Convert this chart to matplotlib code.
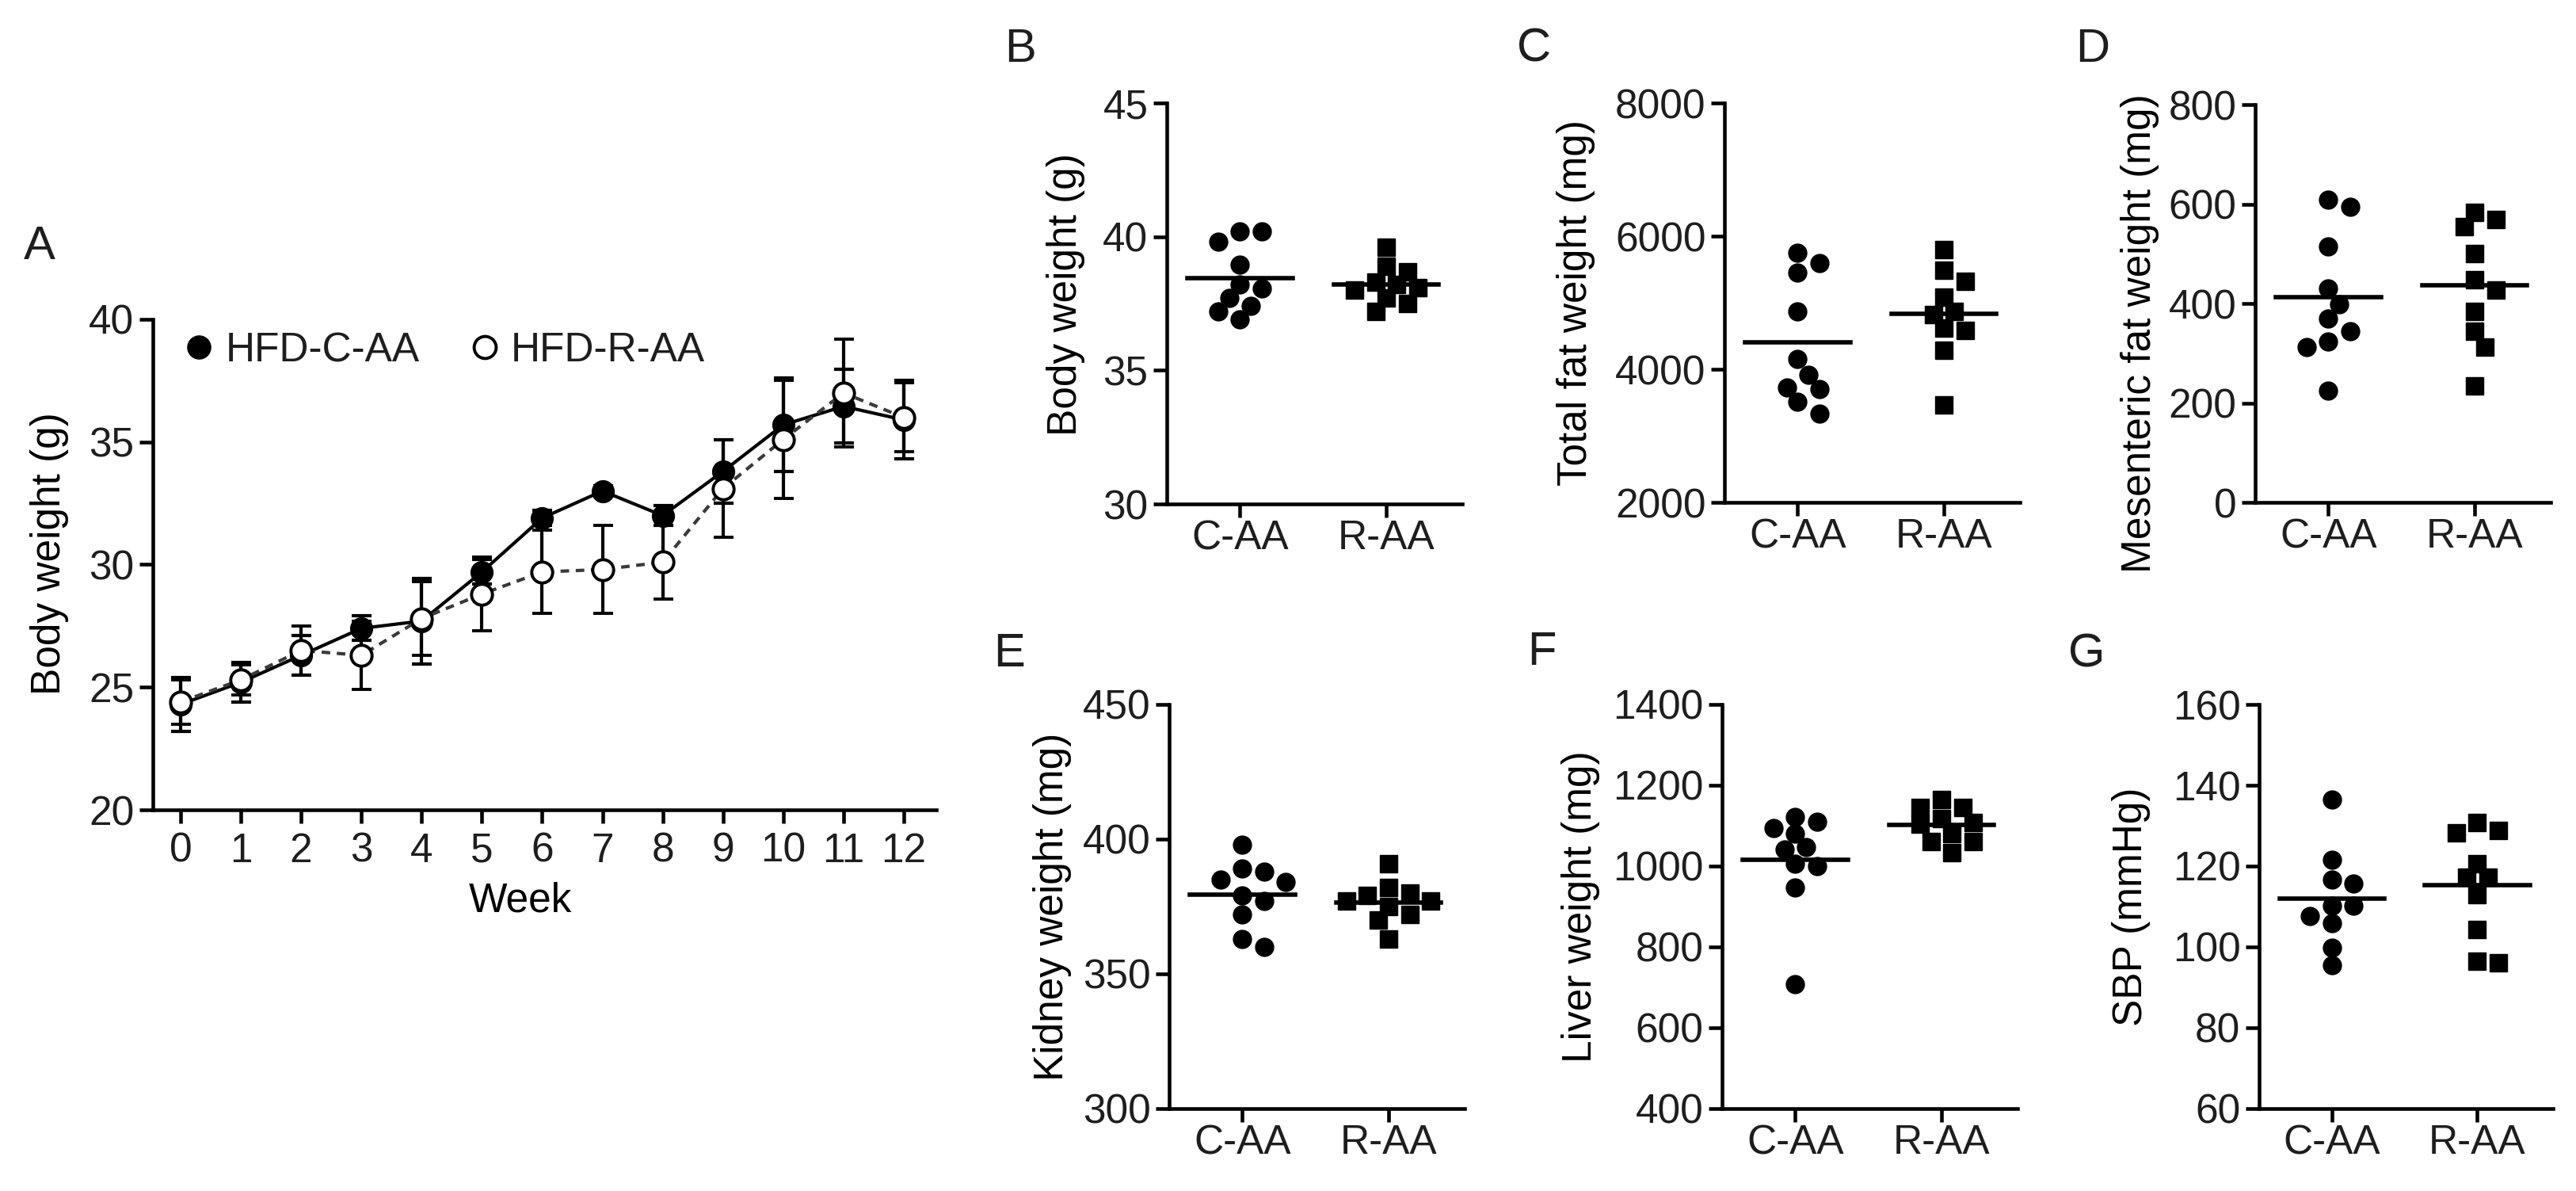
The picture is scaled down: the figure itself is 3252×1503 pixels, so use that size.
import numpy as np
import matplotlib
matplotlib.use('Agg')
import matplotlib.pyplot as plt
from matplotlib.lines import Line2D

plt.rcParams['font.family'] = ['Liberation Sans', 'DejaVu Sans']
plt.rcParams['font.size'] = 37
plt.rcParams['text.color'] = '#1e1e1e'
plt.rcParams['xtick.color'] = 'black'
plt.rcParams['ytick.color'] = 'black'
plt.rcParams['xtick.labelcolor'] = '#1e1e1e'
plt.rcParams['ytick.labelcolor'] = '#1e1e1e'

# ---- Panel A: body weight over time (mean +/- SD) ----
weeks = list(range(13))
c_mean = [24.3, 25.2, 26.3, 27.4, 27.7, 29.7, 31.9, 33.0, 32.0, 33.8, 35.7, 36.45, 35.9]
c_err = [1.1, 0.8, 0.8, 0.5, 1.75, 0.5, 0.3, 0.2, 0.4, 1.3, 1.9, 1.5, 1.6]
r_mean = [24.4, 25.3, 26.5, 26.3, 27.8, 28.8, 29.7, 29.8, 30.1, 33.1, 35.1, 37.0, 36.0]
r_err = [0.9, 0.6, 1.0, 1.4, 1.5, 1.5, 1.7, 1.8, 1.5, 2.0, 2.4, 2.2, 1.4]

# ---- Panels B-G: individual animals ----
groups = ['C-AA', 'R-AA']
bw_c = [40.2, 40.2, 39.8, 38.95, 38.2, 38.05, 37.7, 37.4, 37.2, 36.9]
bw_r = [39.6, 38.9, 38.7, 38.3, 38.2, 38.1, 38.0, 37.7, 37.5, 37.2]
fat_c = [5750, 5590, 5457, 4872, 4154, 3915, 3729, 3702, 3516, 3330]
fat_r = [5803, 5484, 5324, 5085, 4870, 4819, 4620, 4580, 4287, 3463]
mes_c = [608, 595, 515, 430, 398, 370, 345, 323, 313, 224]
mes_r = [583, 569, 555, 501, 448, 427, 384, 345, 313, 235]
kid_c = [398, 389, 388, 385, 384, 379, 377, 372, 363, 360]
kid_r = [391, 382, 380, 379, 377, 377, 375, 372, 370, 363]
liv_c = [1122, 1110, 1094, 1080, 1047, 1042, 1005, 1000, 948, 708]
liv_r = [1165, 1146, 1146, 1118, 1108, 1103, 1080, 1061, 1061, 1033]
sbp_c = [136.5, 121.6, 116.7, 115.7, 110.1, 110.1, 107.7, 105.9, 99.9, 95.5]
sbp_r = [130.8, 128.9, 128.2, 120.5, 117.2, 117.2, 112.9, 104.4, 96.4, 96.0]

W, H = 3252, 1503
fig = plt.figure(figsize=(W / 100, H / 100), dpi=100)


def add_ax(l, t, r, b):
    return fig.add_axes([l / W, 1 - b / H, (r - l) / W, (b - t) / H])


def style(ax, xpad):
    for s in ['top', 'right']:
        ax.spines[s].set_visible(False)
    for s in ['left', 'bottom']:
        ax.spines[s].set_linewidth(3.3)
        ax.spines[s].set_capstyle('projecting')
    ax.tick_params(axis='both', direction='out', length=12, width=3.3)
    ax.tick_params(axis='y', pad=5)
    ax.tick_params(axis='x', pad=xpad)


def swarm(ax, vals, center, diam):
    # simple beeswarm: spread overlapping points sideways (in pixel space)
    vals = np.asarray(vals, float)
    pts = ax.transData.transform(np.column_stack([np.full(len(vals), center), vals]))
    xc, ypx = pts[0, 0], pts[:, 1]
    step = diam * 0.6
    placed, xs = [], np.zeros(len(vals))
    for i in np.argsort(-vals):
        for k in [0, 1, -1, 2, -2, 3, -3, 4, -4, 5, -5]:
            x = xc + k * step
            if all((x - px) ** 2 + (ypx[i] - py) ** 2 >= (diam * 0.92) ** 2 for px, py in placed):
                break
        placed.append((x, ypx[i]))
        xs[i] = x
    return ax.transData.inverted().transform(np.column_stack([xs, ypx]))[:, 0]


# ---- A ----
axA = add_ax(193, 403, 1182, 1022)
style(axA, 8)
axA.errorbar(weeks, c_mean, yerr=c_err, fmt='-o', color='black', ms=20, lw=3,
             elinewidth=3, capsize=9, capthick=3, zorder=3)
axA.errorbar(weeks, r_mean, yerr=r_err, fmt='o', color='black', mfc='white', mec='black',
             mew=2.8, ms=19, elinewidth=3, capsize=9, capthick=3, zorder=4)
axA.plot(weeks, r_mean, color='#3a3a3a', lw=3, ls=(0, (2.6, 2.0)), zorder=3.5)
axA.set_xlim(-0.46, 12.54)
axA.set_ylim(20, 40)
axA.set_xticks(weeks)
axA.set_yticks([20, 25, 30, 35, 40])
axA.set_xlabel('Week', labelpad=10)
axA.xaxis.label.set_x(0.469)
axA.set_ylabel('Body weight (g)', labelpad=18)
axA.yaxis.label.set_y(0.522)
handles = [Line2D([], [], marker='o', ls='none', color='black', ms=21),
           Line2D([], [], marker='o', ls='none', mfc='white', mec='black', mew=2.8, ms=20)]
axA.legend(handles, ['HFD-C-AA', 'HFD-R-AA'], ncol=2, loc='upper left',
           bbox_to_anchor=(0.043, 0.975), frameon=False, borderpad=0, borderaxespad=0,
           handlelength=0.6, handletextpad=0.35, columnspacing=1.3)

# ---- B-G ----
panels = [
    ((1473, 130, 1846, 636), bw_c, bw_r, (30, 45), [30, 35, 40, 45], 'Body weight (g)', 16, 0.5225),
    ((2177, 130, 2550, 634), fat_c, fat_r, (2000, 8000), [2000, 4000, 6000, 8000], 'Total fat weight (mg)', 18, 0.5),
    ((2847, 132, 3220, 634), mes_c, mes_r, (0, 800), [0, 200, 400, 600, 800], 'Mesenteric fat weight (mg)', 8.5, 0.424),
    ((1476, 889, 1849, 1399), kid_c, kid_r, (300, 450), [300, 350, 400, 450], 'Kidney weight (mg)', 10, 0.5),
    ((2174, 889, 2547, 1399), liv_c, liv_r, (400, 1400), [400, 600, 800, 1000, 1200, 1400], 'Liver weight (mg)', 11.5, 0.5),
    ((2852, 889, 3223, 1399), sbp_c, sbp_r, (60, 160), [60, 80, 100, 120, 140, 160], 'SBP (mmHg)', 20, 0.5),
]

for rect, vc, vr, ylim, yticks, ylab, lpad, ly in panels:
    ax = add_ax(*rect)
    style(ax, 2)
    ax.set_xlim(-0.5, 1.52)
    ax.set_ylim(*ylim)
    ax.set_yticks(yticks)
    ax.set_xticks([0, 1])
    ax.set_xticklabels(groups)
    for gi, (vals, mk, ms) in enumerate([(vc, 'o', 16.5), (vr, 's', 16)]):
        xs = swarm(ax, vals, gi, ms * 1.389)
        ax.plot(xs, vals, ls='none', marker=mk, ms=ms, color='black', zorder=3, clip_on=False)
        m = np.mean(vals)
        ax.plot([gi - 0.36, gi + 0.36], [m, m], color='black', lw=4, zorder=4)
    ax.set_ylabel(ylab, labelpad=lpad)
    ax.yaxis.label.set_y(ly)

# panel letters
for letter, x, y in [('A', 30, 327), ('B', 1268, 78), ('C', 1915, 78), ('D', 2620, 78),
                     ('E', 1254, 841), ('F', 1928, 839), ('G', 2611, 841)]:
    fig.text(x / W, 1 - y / H, letter, fontsize=43, ha='left', va='baseline')

fig.savefig('out.png', dpi=100, facecolor='white')
